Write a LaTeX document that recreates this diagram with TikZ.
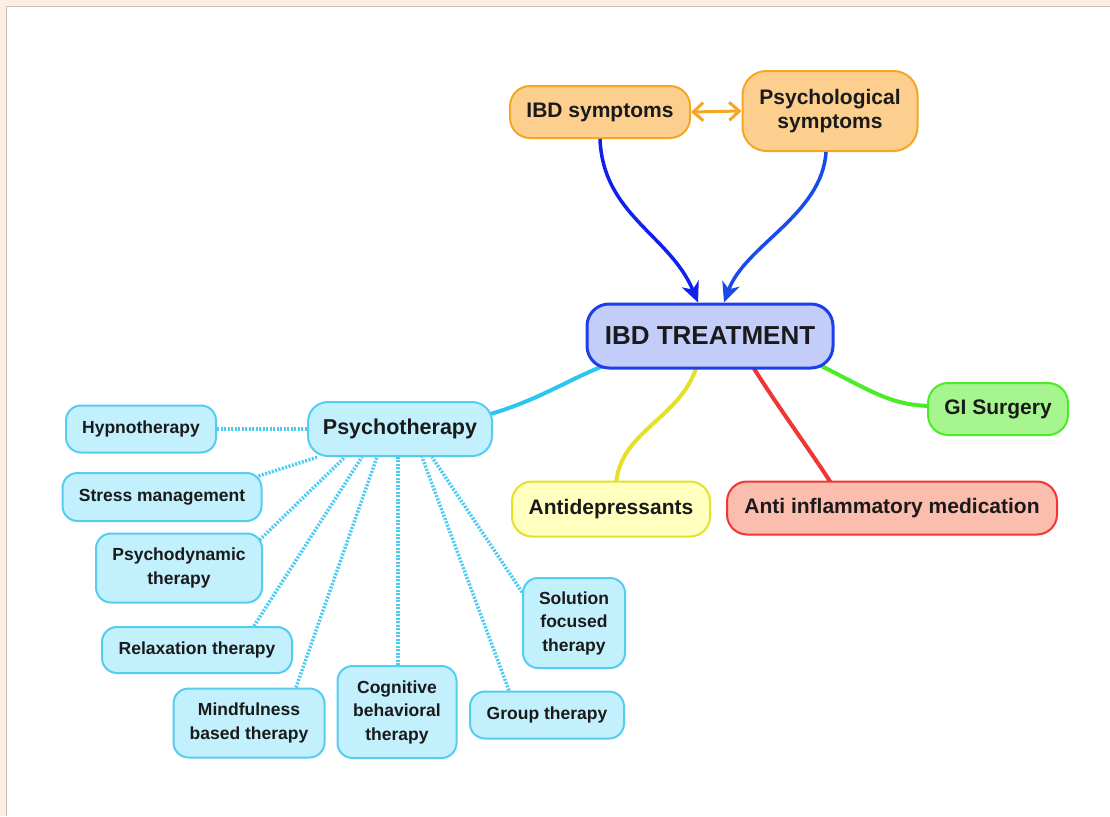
\documentclass[tikz,border=0pt]{standalone}
\usepackage{fontspec}
\setmainfont{Liberation Sans}
\usetikzlibrary{arrows.meta,backgrounds,calc}
\definecolor{beige}{HTML}{FCEEE4}
\definecolor{edgegray}{HTML}{CDBFB5}
\definecolor{ornfill}{HTML}{FDCF8F}
\definecolor{orndraw}{HTML}{F5A623}
\definecolor{trfill}{HTML}{C3CDF9}
\definecolor{trdraw}{HTML}{1E3DEB}
\definecolor{grfill}{HTML}{A6F58F}
\definecolor{grdraw}{HTML}{4CEB2A}
\definecolor{rdfill}{HTML}{FBBDAE}
\definecolor{rddraw}{HTML}{F03535}
\definecolor{ylfill}{HTML}{FFFFC0}
\definecolor{yldraw}{HTML}{E5E02A}
\definecolor{cyfill}{HTML}{C2F0FD}
\definecolor{cydraw}{HTML}{55CCF2}
\definecolor{cyline}{HTML}{2EC4F0}
\definecolor{dotcol}{HTML}{4CCBF3}
\definecolor{bluea}{HTML}{1020F0}
\definecolor{blueb}{HTML}{1A4AE8}
\definecolor{txt}{HTML}{1A1A1A}
\tikzset{
  box/.style={draw, rounded corners=20pt, inner sep=0pt, align=center, text=txt, line width=2pt},
  mainbox/.style={box, font=\fontsize{21}{24}\selectfont\bfseries},
  childbox/.style={box, draw=cydraw, fill=cyfill, rounded corners=15pt, font=\fontsize{17.5}{23.5}\selectfont\bfseries},
  link/.style={line width=4pt},
  dotlink/.style={draw=dotcol, line width=3.5pt, dash pattern=on 2pt off 1.5pt},
  bluearrow/.style={line width=3.5pt, -{Stealth[length=20pt,width=18pt,inset=6pt]}},
}
\begin{document}
\begin{tikzpicture}[x=1pt,y=-1pt]
\useasboundingbox (0,0) rectangle (1110,816);
% nodes
\node[mainbox, fill=trfill, draw=trdraw, line width=3pt, rounded corners=22pt, minimum width=246pt, minimum height=64pt, font=\fontsize{26}{30}\selectfont\bfseries] (treat) at (710,336) {IBD TREATMENT};
\node[mainbox, fill=ornfill, draw=orndraw, minimum width=180pt, minimum height=52pt] (ibd) at (600,112) {IBD symptoms};
\node[mainbox, fill=ornfill, draw=orndraw, minimum width=175pt, minimum height=80pt, rounded corners=24pt] (psy) at (830,111) {Psychological\\symptoms};
\node[mainbox, fill=grfill, draw=grdraw, minimum width=140pt, minimum height=52pt] (gi) at (998,409) {GI Surgery};
\node[mainbox, fill=rdfill, draw=rddraw, minimum width=330pt, minimum height=53pt] (anti) at (892,508) {Anti inflammatory medication};
\node[mainbox, fill=ylfill, draw=yldraw, minimum width=198pt, minimum height=55pt] (dep) at (611,509) {Antidepressants};
\node[mainbox, fill=cyfill, draw=cydraw, minimum width=184pt, minimum height=54pt, font=\fontsize{21.5}{25}\selectfont\bfseries] (ther) at (400,429) {Psychotherapy};
\node[childbox, minimum width=150pt, minimum height=47pt] (hyp) at (141,429) {Hypnotherapy};
\node[childbox, minimum width=199pt, minimum height=48pt] (stress) at (162,497) {Stress management};
\node[childbox, minimum width=166pt, minimum height=69pt] (dyn) at (179,568) {Psychodynamic\\therapy};
\node[childbox, minimum width=190pt, minimum height=46pt] (relax) at (197,650) {Relaxation therapy};
\node[childbox, minimum width=151pt, minimum height=69pt] (mind) at (249,723) {Mindfulness\\based therapy};
\node[childbox, minimum width=119pt, minimum height=92pt] (cbt) at (397,712) {Cognitive\\behavioral\\therapy};
\node[childbox, minimum width=154pt, minimum height=47pt] (group) at (547,715) {Group therapy};
\node[childbox, minimum width=102pt, minimum height=90pt] (sol) at (574,623) {Solution\\focused\\therapy};
\begin{scope}[on background layer]
  \fill[beige] (0,0) rectangle (1110,816);
  \fill[white] (7,7) rectangle (1110,816);
  \draw[edgegray, line width=1.5pt] (6.5,816) -- (6.5,6.5) -- (1110,6.5);
  % main connectors (start inside the nodes, hidden by their fills)
  \draw[link, cyline] ([xshift=-6pt,yshift=14pt]ther.east) .. controls (540,400) and (570,378) .. ([xshift=-100pt,yshift=6pt]treat.south);
  \draw[link, yldraw] ([xshift=-13pt,yshift=4pt]treat.south) .. controls (680,420) and (620,430) .. ([xshift=5pt,yshift=-4pt]dep.north);
  \draw[link, rddraw] ([xshift=42pt,yshift=4pt]treat.south) .. controls (780,410) and (810,450) .. ([xshift=-60pt,yshift=-4pt]anti.north);
  \draw[link, grdraw] ([xshift=-22pt,yshift=8pt]treat.south east) .. controls (870,390) and (890,406) .. ([xshift=6pt,yshift=3pt]gi.west);
  % dotted links
  \draw[dotlink] (hyp.east) -- (ther.west);
  \draw[dotlink] ([xshift=-4pt,yshift=-4pt]stress.north east) -- ([xshift=-82pt]ther.south);
  \draw[dotlink] ([xshift=-6pt,yshift=-10pt]dyn.north east) -- ([xshift=-55pt]ther.south);
  \draw[dotlink] ([xshift=57pt]relax.north) -- ([xshift=-38pt]ther.south);
  \draw[dotlink] ([xshift=47pt]mind.north) -- ([xshift=-23pt]ther.south);
  \draw[dotlink] ([xshift=1pt]cbt.north) -- ([xshift=-2pt]ther.south);
  \draw[dotlink] ([xshift=-38pt]group.north) -- ([xshift=22pt]ther.south);
  \draw[dotlink] ([xshift=4pt,yshift=-21pt]sol.north west) -- ([xshift=32pt]ther.south);
\end{scope}
% arrows
\draw[bluearrow, bluea] (ibd.south) .. controls (603,215) and (670,235) .. ([xshift=-12pt]treat.north);
\draw[bluearrow, blueb] ([xshift=-4pt]psy.south) .. controls (822,215) and (745,245) .. ([xshift=14pt]treat.north);
\draw[orndraw, line width=3pt, {Straight Barb[length=10pt,width=18pt]}-{Straight Barb[length=10pt,width=18pt]}] (ibd.east) -- (psy.west);
\end{tikzpicture}
\end{document}
